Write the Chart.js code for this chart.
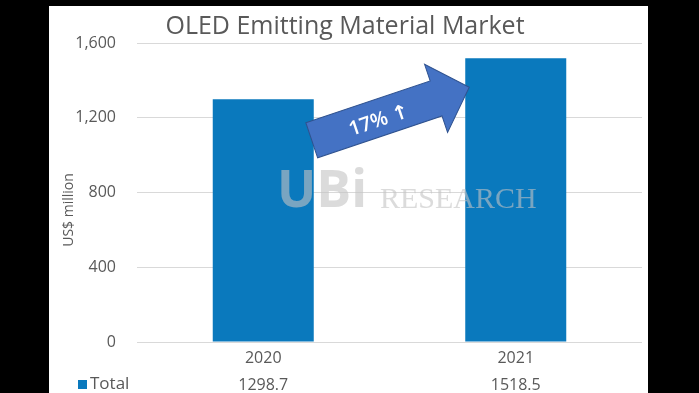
<!DOCTYPE html>
<html>
<head>
<meta charset="utf-8">
<script src="https://cdn.jsdelivr.net/npm/chart.js@4/dist/chart.umd.min.js"></script>
<style>
  html, body { margin: 0; padding: 0; background: #000; }
  #wrap { width: 699px; height: 393px; }
</style>
</head>
<body>
<div id="wrap"><canvas id="c" width="699" height="393"></canvas></div>
<script>
// ---- data ----
const categories = ['2020', '2021'];
const totals = [1298.7, 1518.5];
const seriesName = 'Total';
const yTicks = [0, 400, 800, 1200, 1600];
const growthLabel = '17% \u2191';
const chartTitle = 'OLED Emitting Material Market';
const yAxisTitle = 'US$ million';

const FONT = "'Open Sans', 'DejaVu Sans', sans-serif";
const GREY = '#595959';
const BAR = '#0A79BD';

const decor = {
  id: 'decor',
  beforeDraw(chart) {
    const ctx = chart.ctx;
    ctx.save();
    ctx.fillStyle = '#000';
    ctx.fillRect(0, 0, chart.width, chart.height);
    ctx.fillStyle = '#fff';
    ctx.fillRect(49, 6, 599, chart.height - 6);
    // title
    ctx.fillStyle = GREY;
    ctx.font = "25px " + FONT;
    ctx.textAlign = 'center';
    ctx.textBaseline = 'alphabetic';
    ctx.fillText(chartTitle, 345, 34);
    // y axis title
    ctx.translate(69, 210);
    ctx.rotate(-Math.PI / 2);
    ctx.font = "14px " + FONT;
    ctx.textBaseline = 'middle';
    ctx.fillText(yAxisTitle, 0, 0);
    ctx.restore();
  },
  afterDatasetsDraw(chart) {
    const ctx = chart.ctx;
    const meta = chart.getDatasetMeta(0);
    const b0 = meta.data[0], b1 = meta.data[1];
    ctx.save();
    // watermark
    ctx.fillStyle = 'rgba(195,195,195,0.6)';
    ctx.textBaseline = 'alphabetic';
    ctx.textAlign = 'left';
    ctx.font = "bold 52px " + FONT;
    ctx.fillText('UBi', 277, 207);
    ctx.font = "30px 'Liberation Serif', 'DejaVu Serif', serif";
    ctx.fillText('RESEARCH', 380, 208);
    ctx.restore();

    // growth arrow anchored to bar tops
    const x0 = b0.x + b0.width / 2 - 2, y0 = b0.y + 41;
    const x1 = b1.x - b1.width / 2 + 4, y1 = b1.y + 29;
    const dx = x1 - x0, dy = y1 - y0;
    const L = Math.hypot(dx, dy);
    const ang = Math.atan2(dy, dx);
    const sw = 18.5, hw = 36, hl = 35;
    ctx.save();
    ctx.translate(x0, y0);
    ctx.rotate(ang);
    ctx.beginPath();
    ctx.moveTo(0, -sw);
    ctx.lineTo(L - hl, -sw);
    ctx.lineTo(L - hl, -hw);
    ctx.lineTo(L, 0);
    ctx.lineTo(L - hl, hw);
    ctx.lineTo(L - hl, sw);
    ctx.lineTo(0, sw);
    ctx.closePath();
    ctx.fillStyle = '#4472C4';
    ctx.fill();
    ctx.lineWidth = 1;
    ctx.strokeStyle = '#2F528F';
    ctx.stroke();
    ctx.fillStyle = '#fff';
    ctx.font = "600 20px " + FONT;
    ctx.textAlign = 'center';
    ctx.textBaseline = 'middle';
    ctx.fillText(growthLabel, 70, 3);
    ctx.restore();

    // data table legend key
    ctx.save();
    ctx.fillStyle = BAR;
    ctx.fillRect(78, 380, 9, 9);
    ctx.fillStyle = GREY;
    ctx.font = "17px " + FONT;
    ctx.textAlign = 'left';
    ctx.textBaseline = 'middle';
    ctx.fillText(seriesName, 90, 384);
    ctx.restore();
  }
};

new Chart(document.getElementById('c'), {
  type: 'bar',
  data: {
    labels: categories,
    datasets: [{
      label: seriesName,
      data: totals,
      backgroundColor: BAR,
      borderWidth: 0,
      barPercentage: 0.4,
      categoryPercentage: 1
    }]
  },
  options: {
    responsive: false,
    animation: false,
    devicePixelRatio: 1,
    layout: { padding: { top: 43, right: 57, left: 0, bottom: 0 } },
    plugins: { legend: { display: false }, tooltip: { enabled: false }, title: { display: false } },
    scales: {
      x: {
        grid: { display: false, drawTicks: false },
        border: { display: false },
        ticks: {
          color: GREY,
          font: { size: 16, family: FONT, lineHeight: 1.7 },
          padding: 3,
          maxRotation: 0,
          callback: function (v, i) { return [categories[i], totals[i].toFixed(1)]; }
        },
        afterFit: function (s) { s.height = 51; }
      },
      y: {
        min: yTicks[0],
        max: yTicks[yTicks.length - 1],
        afterBuildTicks: function (s) { s.ticks = yTicks.map(v => ({ value: v })); },
        grid: { color: '#D9D9D9', drawTicks: false, lineWidth: 1 },
        border: { display: false },
        ticks: {
          color: GREY,
          font: { size: 16, family: FONT },
          padding: 21,
          callback: function (v) { return v.toLocaleString('en-US'); }
        },
        afterFit: function (s) { s.width = 137; }
      }
    }
  },
  plugins: [decor]
});
</script>
</body>
</html>
